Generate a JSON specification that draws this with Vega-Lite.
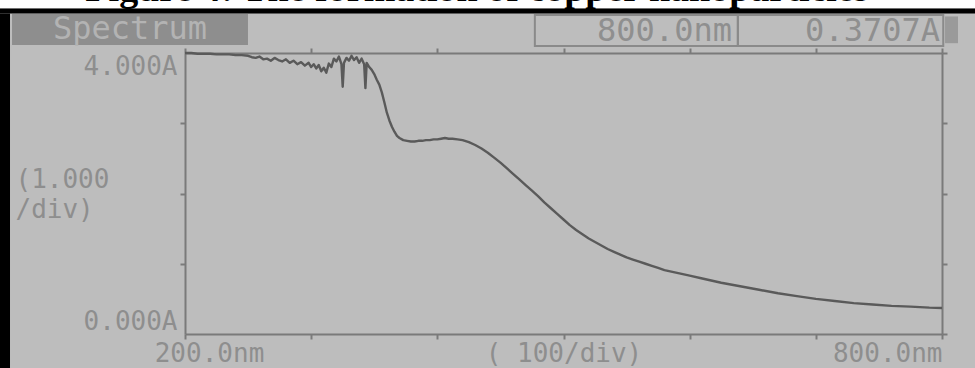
{
  "$schema": "https://vega.github.io/schema/vega-lite/v6.json",
  "width": 757,
  "height": 281,
  "autosize": "none",
  "padding": {"left": 185, "top": 53, "right": 33, "bottom": 34},
  "background": "#bdbdbd",
  "config": {"view": {"stroke": null}},
  "data": {"values": [
    {"wl":200,"abs":4.00},{"wl":205,"abs":4.00},{"wl":210,"abs":3.99},{"wl":215,"abs":3.99},{"wl":220,"abs":3.99},
    {"wl":225,"abs":3.98},{"wl":230,"abs":3.98},{"wl":235,"abs":3.98},{"wl":240,"abs":3.97},{"wl":245,"abs":3.97},
    {"wl":250,"abs":3.96},{"wl":253,"abs":3.94},{"wl":256,"abs":3.93},{"wl":259,"abs":3.95},{"wl":262,"abs":3.91},
    {"wl":265,"abs":3.92},{"wl":268,"abs":3.89},{"wl":271,"abs":3.93},{"wl":274,"abs":3.90},{"wl":277,"abs":3.88},
    {"wl":280,"abs":3.91},{"wl":283,"abs":3.86},{"wl":286,"abs":3.89},{"wl":289,"abs":3.84},{"wl":292,"abs":3.87},
    {"wl":295,"abs":3.82},{"wl":298,"abs":3.86},{"wl":300,"abs":3.80},{"wl":302,"abs":3.84},{"wl":304,"abs":3.78},
    {"wl":306,"abs":3.83},{"wl":308,"abs":3.74},{"wl":310,"abs":3.79},{"wl":312,"abs":3.72},{"wl":314,"abs":3.85},
    {"wl":316,"abs":3.80},{"wl":318,"abs":3.92},{"wl":320,"abs":3.88},{"wl":322,"abs":3.95},{"wl":324,"abs":3.84},
    {"wl":325,"abs":3.52},{"wl":326,"abs":3.86},{"wl":328,"abs":3.93},{"wl":330,"abs":3.89},{"wl":332,"abs":3.96},
    {"wl":334,"abs":3.90},{"wl":336,"abs":3.94},{"wl":338,"abs":3.86},{"wl":340,"abs":3.92},{"wl":342,"abs":3.84},
    {"wl":343,"abs":3.50},{"wl":344,"abs":3.86},{"wl":346,"abs":3.80},{"wl":348,"abs":3.76},{"wl":350,"abs":3.70},
    {"wl":352,"abs":3.62},{"wl":354,"abs":3.55},{"wl":356,"abs":3.44},{"wl":358,"abs":3.30},{"wl":360,"abs":3.15},
    {"wl":362,"abs":3.04},{"wl":364,"abs":2.95},{"wl":366,"abs":2.88},{"wl":368,"abs":2.82},{"wl":370,"abs":2.79},
    {"wl":373,"abs":2.76},{"wl":376,"abs":2.75},{"wl":379,"abs":2.74},{"wl":382,"abs":2.74},{"wl":385,"abs":2.75},
    {"wl":388,"abs":2.75},{"wl":391,"abs":2.76},{"wl":394,"abs":2.76},{"wl":397,"abs":2.77},{"wl":400,"abs":2.77},
    {"wl":403,"abs":2.78},{"wl":406,"abs":2.79},{"wl":409,"abs":2.78},{"wl":412,"abs":2.78},{"wl":416,"abs":2.77},
    {"wl":420,"abs":2.76},{"wl":425,"abs":2.73},{"wl":430,"abs":2.69},{"wl":435,"abs":2.64},{"wl":440,"abs":2.58},
    {"wl":445,"abs":2.51},{"wl":450,"abs":2.44},{"wl":455,"abs":2.36},{"wl":460,"abs":2.28},{"wl":465,"abs":2.20},
    {"wl":470,"abs":2.12},{"wl":475,"abs":2.04},{"wl":480,"abs":1.96},{"wl":485,"abs":1.87},{"wl":490,"abs":1.79},
    {"wl":495,"abs":1.71},{"wl":500,"abs":1.63},{"wl":505,"abs":1.55},{"wl":510,"abs":1.48},{"wl":515,"abs":1.42},
    {"wl":520,"abs":1.36},{"wl":525,"abs":1.31},{"wl":530,"abs":1.26},{"wl":535,"abs":1.21},{"wl":540,"abs":1.17},
    {"wl":545,"abs":1.13},{"wl":550,"abs":1.09},{"wl":555,"abs":1.06},{"wl":560,"abs":1.03},{"wl":565,"abs":1.00},
    {"wl":570,"abs":0.97},{"wl":575,"abs":0.94},{"wl":580,"abs":0.91},{"wl":590,"abs":0.87},{"wl":600,"abs":0.83},
    {"wl":610,"abs":0.79},{"wl":625,"abs":0.73},{"wl":640,"abs":0.68},{"wl":655,"abs":0.63},{"wl":670,"abs":0.58},
    {"wl":685,"abs":0.54},{"wl":700,"abs":0.50},{"wl":715,"abs":0.47},{"wl":730,"abs":0.44},{"wl":745,"abs":0.42},
    {"wl":760,"abs":0.40},{"wl":775,"abs":0.39},{"wl":790,"abs":0.375},{"wl":800,"abs":0.3707}
  ]},
  "resolve": {"axis": {"x": "independent", "y": "independent"}},
  "layer": [
    {
      "data": {"values": [{}]},
      "mark": {"type": "rect", "color": "white"},
      "encoding": {
        "x": {"datum": 40, "type": "quantitative", "scale": {"domain": [200, 800], "nice": false, "zero": false}, "axis": null},
        "x2": {"datum": 850},
        "y": {"datum": 5.2, "type": "quantitative", "scale": {"domain": [0, 4], "nice": false, "zero": false}, "axis": null},
        "y2": {"datum": 4.633}
      }
    },
    {
      "data": {"values": [{}]},
      "mark": {"type": "text", "font": "Liberation Serif", "fontWeight": "bold", "fontSize": 38, "color": "black", "align": "center", "baseline": "alphabetic"},
      "encoding": {
        "x": {"datum": 431.4, "type": "quantitative", "axis": null},
        "y": {"datum": 4.74, "type": "quantitative", "axis": null},
        "text": {"value": "Figure 4: The formation of copper nanoparticles"}
      }
    },
    {
      "data": {"values": [{}]},
      "mark": {"type": "rect", "color": "black"},
      "encoding": {
        "x": {"datum": 40, "type": "quantitative", "axis": null},
        "x2": {"datum": 850},
        "y": {"datum": 4.633, "type": "quantitative", "axis": null},
        "y2": {"datum": 4.562}
      }
    },
    {
      "data": {"values": [{}]},
      "mark": {"type": "rect", "color": "black"},
      "encoding": {
        "x": {"datum": 40, "type": "quantitative", "axis": null},
        "x2": {"datum": 61.3},
        "y": {"datum": 4.562, "type": "quantitative", "axis": null},
        "y2": {"datum": -0.6}
      }
    },
    {
      "data": {"values": [{}]},
      "mark": {"type": "rect", "color": "#8e8e8e"},
      "encoding": {
        "x": {"datum": 62.9, "type": "quantitative", "axis": null},
        "x2": {"datum": 249.9},
        "y": {"datum": 4.555, "type": "quantitative", "axis": null},
        "y2": {"datum": 4.114}
      }
    },
    {
      "data": {"values": [{}]},
      "mark": {"type": "text", "font": "DejaVu Sans Mono", "fontSize": 32, "color": "#b3b3b3", "align": "center", "baseline": "middle"},
      "encoding": {
        "x": {"datum": 156.4, "type": "quantitative", "axis": null},
        "y": {"datum": 4.342, "type": "quantitative", "axis": null},
        "text": {"value": "Spectrum"}
      }
    },
    {
      "data": {"values": [{}]},
      "mark": {"type": "rect", "fill": null, "stroke": "#8a8a8a", "strokeWidth": 2},
      "encoding": {
        "x": {"datum": 477.3, "type": "quantitative", "axis": null},
        "x2": {"datum": 638.2},
        "y": {"datum": 4.541, "type": "quantitative", "axis": null},
        "y2": {"datum": 4.1}
      }
    },
    {
      "data": {"values": [{}]},
      "mark": {"type": "rect", "fill": null, "stroke": "#8a8a8a", "strokeWidth": 2},
      "encoding": {
        "x": {"datum": 638.2, "type": "quantitative", "axis": null},
        "x2": {"datum": 801},
        "y": {"datum": 4.541, "type": "quantitative", "axis": null},
        "y2": {"datum": 4.1}
      }
    },
    {
      "data": {"values": [{}]},
      "mark": {"type": "rect", "color": "#9a9a9a"},
      "encoding": {
        "x": {"datum": 802.4, "type": "quantitative", "axis": null},
        "x2": {"datum": 812.7},
        "y": {"datum": 4.52, "type": "quantitative", "axis": null},
        "y2": {"datum": 4.14}
      }
    },
    {
      "data": {"values": [{}]},
      "mark": {"type": "text", "font": "DejaVu Sans Mono", "fontSize": 32, "color": "#8f8f8f", "align": "right", "baseline": "middle"},
      "encoding": {
        "x": {"datum": 633.5, "type": "quantitative", "axis": null},
        "y": {"datum": 4.32, "type": "quantitative", "axis": null},
        "text": {"value": "800.0nm"}
      }
    },
    {
      "data": {"values": [{}]},
      "mark": {"type": "text", "font": "DejaVu Sans Mono", "fontSize": 32, "color": "#8f8f8f", "align": "right", "baseline": "middle"},
      "encoding": {
        "x": {"datum": 798.4, "type": "quantitative", "axis": null},
        "y": {"datum": 4.32, "type": "quantitative", "axis": null},
        "text": {"value": "0.3707A"}
      }
    },
    {
      "mark": {"type": "point", "opacity": 0},
      "encoding": {
        "x": {"field": "wl", "type": "quantitative", "axis": {
          "orient": "top", "values": [200, 300, 400, 500, 600, 700, 800], "labels": false, "title": null, "grid": false,
          "domainColor": "#7a7a7a", "domainWidth": 2, "tickColor": "#7a7a7a", "tickWidth": 2, "tickSize": 5
        }},
        "y": {"field": "abs", "type": "quantitative", "axis": {
          "orient": "right", "values": [0, 1, 2, 3, 4], "labels": false, "title": null, "grid": false,
          "domainColor": "#7a7a7a", "domainWidth": 2, "tickColor": "#7a7a7a", "tickWidth": 2, "tickSize": 5
        }}
      }
    },
    {
      "mark": {"type": "line", "color": "#5a5a5a", "strokeWidth": 2.4, "strokeJoin": "round"},
      "encoding": {
        "x": {"field": "wl", "type": "quantitative", "axis": {
          "orient": "bottom", "values": [200, 300, 400, 500, 600, 700, 800], "title": null, "grid": false,
          "labelExpr": "datum.value == 200 ? '200.0nm' : datum.value == 500 ? '( 100/div)' : datum.value == 800 ? '800.0nm' : ''",
          "labelFont": "DejaVu Sans Mono", "labelFontSize": 26, "labelColor": "#8e8e8e",
          "labelBaseline": "top", "labelPadding": 1, "labelFlush": false, "labelOverlap": false,
          "labelAlign": {"condition": {"test": "datum.value == 800", "value": "right"}, "value": "center"},
          "labelOffset": {"condition": {"test": "datum.value == 200", "value": 24}, "value": 0},
          "domainColor": "#7a7a7a", "domainWidth": 2, "tickColor": "#7a7a7a", "tickWidth": 2, "tickSize": 5
        }},
        "y": {"field": "abs", "type": "quantitative", "axis": {
          "orient": "left", "values": [0, 1, 2, 3, 4], "title": null, "grid": false,
          "labelExpr": "datum.value == 4 ? '4.000A' : datum.value == 0 ? '0.000A' : datum.value == 2 ? ['(1.000', '/div)'] : ''",
          "labelFont": "DejaVu Sans Mono", "labelFontSize": 26, "labelColor": "#8e8e8e", "labelLineHeight": 30,
          "labelFlush": true, "labelOverlap": false,
          "labelAlign": {"condition": {"test": "datum.value == 2", "value": "left"}, "value": "right"},
          "labelPadding": {"condition": {"test": "datum.value == 2", "value": 165}, "value": 3},
          "labelOffset": {"condition": {"test": "datum.value == 2", "value": -14}, "value": 0},
          "tickOpacity": {"condition": {"test": "datum.value == 0 || datum.value == 4", "value": 0}, "value": 1},
          "domainColor": "#7a7a7a", "domainWidth": 2, "tickColor": "#7a7a7a", "tickWidth": 2, "tickSize": 5
        }}
      }
    }
  ]
}
